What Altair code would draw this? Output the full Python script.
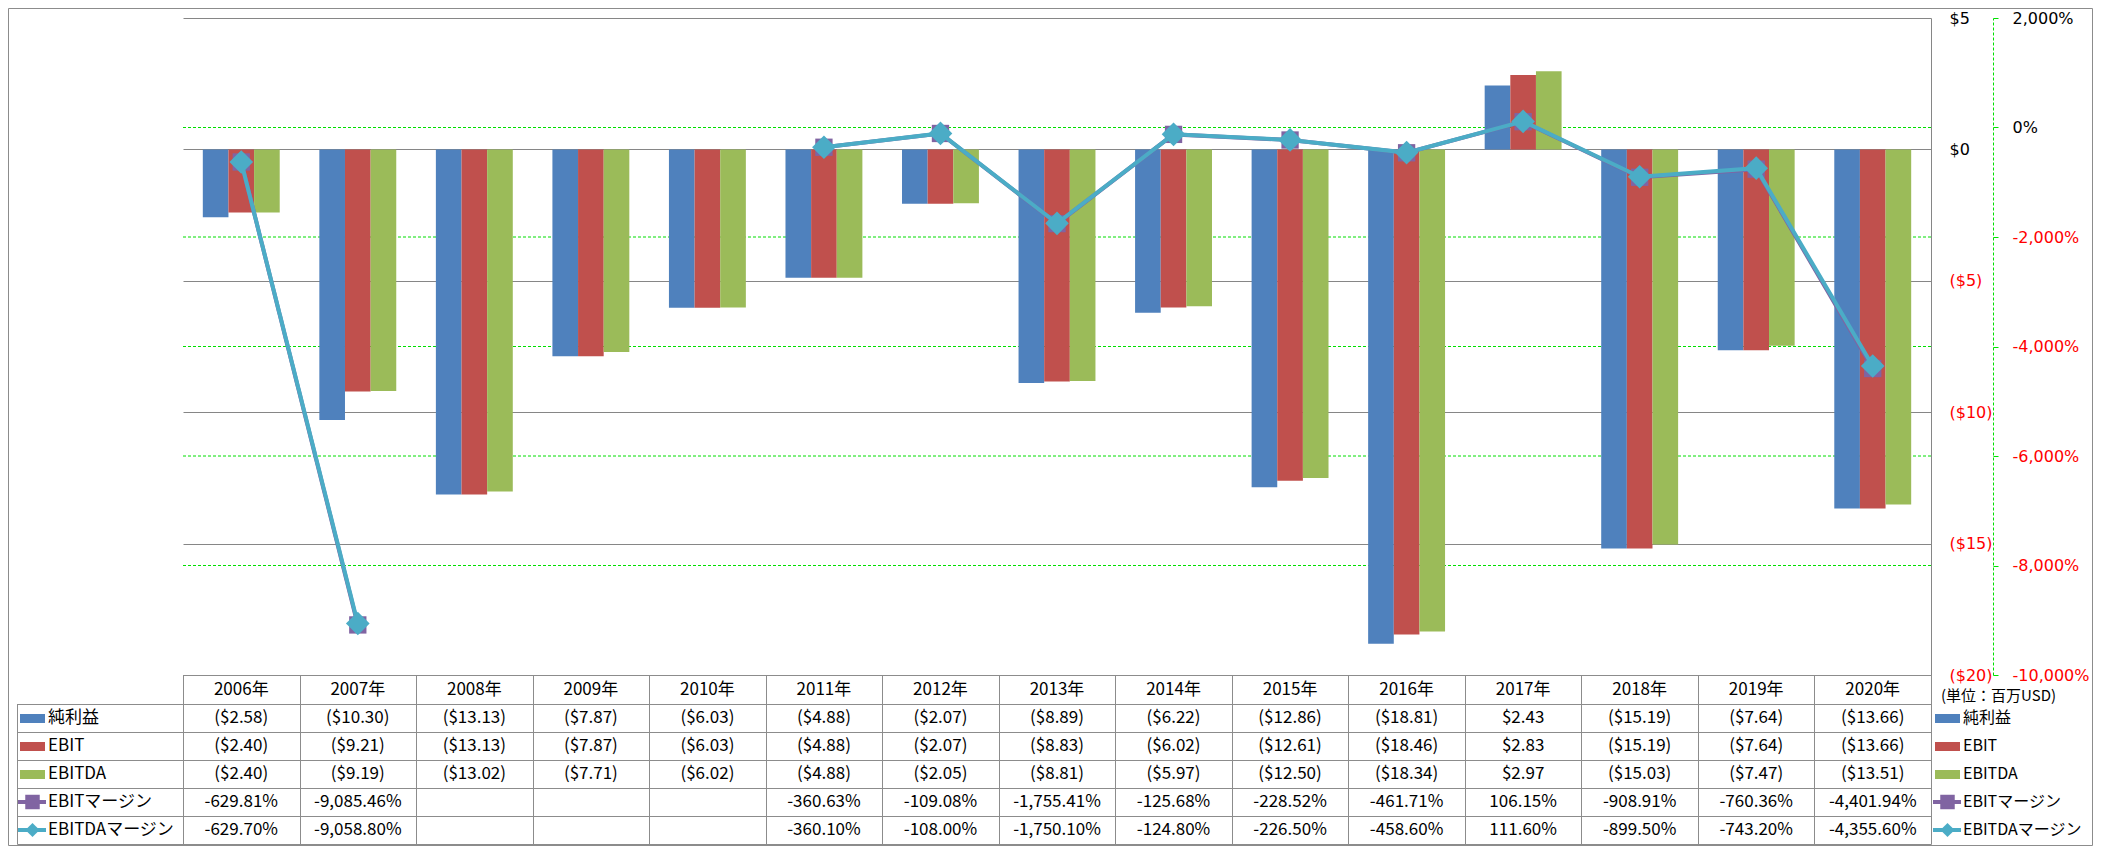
import altair as alt
import pandas as pd

# ---------------- data ----------------
years = [2006, 2007, 2008, 2009, 2010, 2011, 2012, 2013, 2014, 2015, 2016, 2017, 2018, 2019, 2020]
year_labels = [f"{y}年" for y in years]

series_names = ["純利益", "EBIT", "EBITDA"]
net_income = [-2.58, -10.30, -13.13, -7.87, -6.03, -4.88, -2.07, -8.89, -6.22, -12.86, -18.81, 2.43, -15.19, -7.64, -13.66]
ebit = [-2.40, -9.21, -13.13, -7.87, -6.03, -4.88, -2.07, -8.83, -6.02, -12.61, -18.46, 2.83, -15.19, -7.64, -13.66]
ebitda = [-2.40, -9.19, -13.02, -7.71, -6.02, -4.88, -2.05, -8.81, -5.97, -12.50, -18.34, 2.97, -15.03, -7.47, -13.51]

margin_names = ["EBITマージン", "EBITDAマージン"]
ebit_margin = [-629.81, -9085.46, None, None, None, -360.63, -109.08, -1755.41, -125.68, -228.52, -461.71, 106.15, -908.91, -760.36, -4401.94]
ebitda_margin = [-629.70, -9058.80, None, None, None, -360.10, -108.00, -1750.10, -124.80, -226.50, -458.60, 111.60, -899.50, -743.20, -4355.60]

money_ticks = [5, 0, -5, -10, -15, -20]
pct_ticks = [2000, 0, -2000, -4000, -6000, -8000, -10000]
pct_grid = [0, -2000, -4000, -6000, -8000]
unit_label = "(単位：百万USD)"

# ---------------- styles ----------------
BLUE, RED, GREEN = "#4F81BD", "#C0504D", "#9BBB59"
PURPLE, TEAL = "#8064A2", "#4BACC6"
GRIDGRAY = "#868686"
LINEGRAY = "#8C8C8C"
LIME = "#00E000"
TFONT = "Noto Sans CJK JP"
AFONT = "DejaVu Sans"
TSIZE = 17
LSIZE = 16
ASIZE = 16

W, H = 1748, 657
PAD = {"left": 175, "top": 10, "right": 162, "bottom": 171}
N = len(years)
STEP = W / N

# table geometry (plot coordinates)
T_TOP = H
ROW_LINES = [686, 714, 742, 770, 798, 826]
HEADER_BOT = ROW_LINES[0]
HEADER_Y = 672
ROW_Y = [700, 728, 756, 784, 812]
LEG_L = -166
SW_X0, SW_X1 = -163, -138
LBL_X = -135
R_SW_X0, R_SW_X1 = 1752, 1777
R_LBL_X = 1780


def money(v):
    return f"(${-v:.2f})" if v < 0 else f"${v:.2f}"


def pct(v):
    return f"{v:,.2f}%"


xscale = alt.Scale(domain=year_labels, paddingInner=0.34, paddingOuter=0.17)


def xenc():
    return alt.X("year:N", sort=year_labels, axis=None, scale=xscale)


money_scale = alt.Scale(domain=[-20, 5], nice=False, zero=False)
pct_scale = alt.Scale(domain=[-10000, 2000], nice=False, zero=False)

layers = []

# green dashed gridlines for secondary axis
green_grid = alt.Chart(pd.DataFrame({"v": pct_grid})).mark_rule(
    color=LIME, strokeDash=[3, 2], strokeWidth=1
).encode(y=alt.Y("v:Q", scale=pct_scale, axis=None))
layers.append(green_grid)

# bars
bar_rows = []
for s, vals in zip(series_names, [net_income, ebit, ebitda]):
    for yl, v in zip(year_labels, vals):
        bar_rows.append({"year": yl, "series": s, "value": v})
bar_df = pd.DataFrame(bar_rows)

bars = alt.Chart(bar_df).mark_bar().encode(
    x=xenc(),
    xOffset=alt.XOffset("series:N", sort=series_names,
                        scale=alt.Scale(domain=series_names, paddingInner=0, paddingOuter=0)),
    y=alt.Y("value:Q", scale=money_scale,
            axis=alt.Axis(orient="right", values=money_ticks, title=None,
                          grid=True, gridColor=GRIDGRAY, gridWidth=1,
                          domain=True, domainColor=GRIDGRAY, domainWidth=1,
                          ticks=False, tickSize=0, labelPadding=18,
                          labelFont=AFONT, labelFontSize=ASIZE,
                          labelExpr="datum.value < 0 ? '($' + format(-datum.value, 'd') + ')' : '$' + format(datum.value, 'd')",
                          labelColor={"condition": {"test": "datum.value < 0", "value": "#FF0000"}, "value": "#000000"})),
    color=alt.Color("series:N", scale=alt.Scale(domain=series_names, range=[BLUE, RED, GREEN]), legend=None),
)
layers.append(bars)


def seg_df(vals):
    rows, seg, prev = [], 0, False
    for yl, v in zip(year_labels, vals):
        if v is None:
            if prev:
                seg += 1
            prev = False
            continue
        rows.append({"year": yl, "value": v, "seg": seg})
        prev = True
    return pd.DataFrame(rows)


ebit_m_df = seg_df(ebit_margin)
ebitda_m_df = seg_df(ebitda_margin)

pct_axis = alt.Axis(orient="right", offset=62, values=pct_ticks, title=None, grid=False,
                    domain=True, domainColor=LIME, domainDash=[3, 2], domainWidth=1,
                    ticks=True, tickColor=LIME, tickSize=5, tickWidth=1, labelPadding=14,
                    labelFont=AFONT, labelFontSize=ASIZE,
                    labelExpr="(datum.value < 0 ? '-' : '') + format(abs(datum.value), ',') + '%'",
                    labelColor={"condition": {"test": "datum.value < 0", "value": "#FF0000"}, "value": "#000000"})

purple_line = alt.Chart(ebit_m_df).mark_line(color=PURPLE, strokeWidth=4).encode(
    x=xenc(), y=alt.Y("value:Q", scale=pct_scale, axis=None), detail="seg:N")
purple_pts = alt.Chart(ebit_m_df).mark_point(shape="square", filled=True, size=300, color=PURPLE, opacity=1).encode(
    x=xenc(), y=alt.Y("value:Q", scale=pct_scale, axis=None))
teal_line = alt.Chart(ebitda_m_df).mark_line(color=TEAL, strokeWidth=4).encode(
    x=xenc(), y=alt.Y("value:Q", scale=pct_scale, axis=pct_axis), detail="seg:N")
teal_pts = alt.Chart(ebitda_m_df).mark_point(shape="diamond", filled=True, size=560, color=TEAL, opacity=1).encode(
    x=xenc(), y=alt.Y("value:Q", scale=pct_scale, axis=None))
layers += [purple_line, purple_pts, teal_line, teal_pts]

# table grid lines
h_rows = [{"x": 0, "x2": W, "y": T_TOP + 0.5}]
for yv in ROW_LINES:
    h_rows.append({"x": LEG_L + 0.5, "x2": W + 0.5, "y": yv + 0.5})
v_rows = [{"x": round(k * STEP) + 0.5, "y": T_TOP, "y2": ROW_LINES[-1] + 0.5} for k in range(N + 1)]
v_rows.append({"x": LEG_L + 0.5, "y": HEADER_BOT, "y2": ROW_LINES[-1] + 0.5})

h_lines = alt.Chart(pd.DataFrame(h_rows)).mark_rule(color=LINEGRAY, strokeWidth=1).encode(
    x=alt.X("x:Q", scale=None, axis=None), x2="x2:Q", y=alt.Y("y:Q", scale=None, axis=None))
v_lines = alt.Chart(pd.DataFrame(v_rows)).mark_rule(color=LINEGRAY, strokeWidth=1).encode(
    x=alt.X("x:Q", scale=None, axis=None), y=alt.Y("y:Q", scale=None, axis=None), y2="y2:Q")
layers += [h_lines, v_lines]

# header row
hdr = alt.Chart(pd.DataFrame({"year": year_labels})).mark_text(
    font=TFONT, fontSize=TSIZE, color="#000000", baseline="middle", align="center"
).encode(x=xenc(), y=alt.value(HEADER_Y), text="year:N")
layers.append(hdr)

row_defs = [
    (series_names[0], [money(v) for v in net_income], "bar", BLUE),
    (series_names[1], [money(v) for v in ebit], "bar", RED),
    (series_names[2], [money(v) for v in ebitda], "bar", GREEN),
    (margin_names[0], [None if v is None else pct(v) for v in ebit_margin], "square", PURPLE),
    (margin_names[1], [None if v is None else pct(v) for v in ebitda_margin], "diamond", TEAL),
]

one = pd.DataFrame({"k": [0]})
for (name, labels, kind, col), ry in zip(row_defs, ROW_Y):
    tdf = pd.DataFrame([{"year": yl, "label": lb} for yl, lb in zip(year_labels, labels) if lb is not None])
    layers.append(alt.Chart(tdf).mark_text(
        font=TFONT, fontSize=TSIZE, color="#000000", baseline="middle", align="center"
    ).encode(x=xenc(), y=alt.value(ry), text="label:N"))
    for sx0, sx1, lx, fs in [(SW_X0, SW_X1, LBL_X, TSIZE), (R_SW_X0, R_SW_X1, R_LBL_X, LSIZE)]:
        if kind == "bar":
            layers.append(alt.Chart(one).mark_rect(color=col).encode(
                x=alt.value(sx0), x2=alt.value(sx1), y=alt.value(ry - 4), y2=alt.value(ry + 5)))
        else:
            layers.append(alt.Chart(one).mark_rule(color=col, strokeWidth=4).encode(
                x=alt.value(sx0 - 2), x2=alt.value(sx1 + 1), y=alt.value(ry)))
            layers.append(alt.Chart(one).mark_point(
                shape=kind, filled=True, opacity=1, color=col,
                size=210 if kind == "square" else 200).encode(
                x=alt.value((sx0 + sx1) / 2), y=alt.value(ry)))
        layers.append(alt.Chart(pd.DataFrame({"t": [name]})).mark_text(
            font=TFONT, fontSize=fs, color="#000000", baseline="middle", align="left"
        ).encode(x=alt.value(lx), y=alt.value(ry), text="t:N"))

# unit label
layers.append(alt.Chart(pd.DataFrame({"t": [unit_label]})).mark_text(
    font=TFONT, fontSize=15, color="#000000", baseline="middle", align="left"
).encode(x=alt.value(1758), y=alt.value(HEADER_Y + 6), text="t:N"))

# outer border
layers.append(alt.Chart(one).mark_rect(fill="transparent", stroke=LINEGRAY, strokeWidth=1).encode(
    x=alt.value(-PAD["left"] + 0.5), x2=alt.value(W + PAD["right"] - 0.5),
    y=alt.value(-PAD["top"] + 0.5), y2=alt.value(H + PAD["bottom"] - 0.5)))

chart = alt.layer(*layers).resolve_scale(y="independent").properties(
    width=W, height=H,
    autosize=alt.AutoSizeParams(type="none"),
    padding=PAD,
    background="#FFFFFF",
).configure_view(strokeWidth=0)

chart.save("out.html", embed_options={"renderer": "svg", "actions": False})
